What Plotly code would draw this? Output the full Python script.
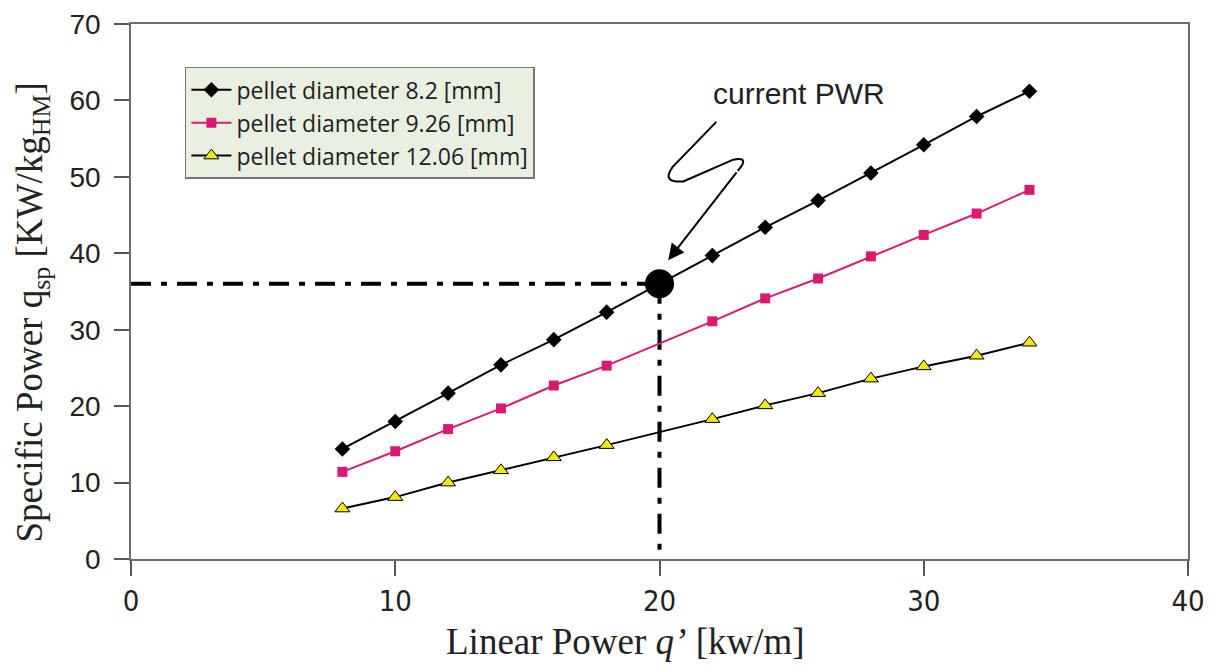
import plotly.graph_objects as go

# ---- data ----
x_black = [8, 10, 12, 14, 16, 18, 20, 22, 24, 26, 28, 30, 32, 34]
y_black = [14.4, 18.0, 21.7, 25.4, 28.7, 32.3, 36.0, 39.7, 43.4, 46.9, 50.5, 54.2, 57.9, 61.2]

x_pink = [8, 10, 12, 14, 16, 18, 22, 24, 26, 28, 30, 32, 34]
y_pink = [11.4, 14.1, 17.0, 19.7, 22.7, 25.3, 31.1, 34.1, 36.7, 39.6, 42.4, 45.2, 48.3]

x_yellow = [8, 10, 12, 14, 16, 18, 22, 24, 26, 28, 30, 32, 34]
y_yellow = [6.6, 8.1, 10.0, 11.6, 13.3, 14.9, 18.3, 20.1, 21.7, 23.6, 25.2, 26.6, 28.3]

names = ["pellet diameter 8.2 [mm]", "pellet diameter 9.26 [mm]", "pellet diameter 12.06 [mm]"]

pwr_x = [20]
pwr_y = [36.0]

x_ticks = [0, 10, 20, 30, 40]
y_ticks = [0, 10, 20, 30, 40, 50, 60, 70]

PINK = "#d81b72"
YELLOW = "#f2ea00"

fig = go.Figure()

# reference dash-dot lines to the current PWR point
fig.add_trace(go.Scatter(x=[0, pwr_x[0]], y=[pwr_y[0], pwr_y[0]], mode="lines",
                         line=dict(color="black", width=4, dash="20px,10px,6px,10px"),
                         showlegend=False, hoverinfo="skip"))
fig.add_trace(go.Scatter(x=[pwr_x[0], pwr_x[0]], y=[pwr_y[0], 0], mode="lines",
                         line=dict(color="black", width=4, dash="20px,10px,6px,10px"),
                         showlegend=False, hoverinfo="skip"))

fig.add_trace(go.Scatter(x=x_black, y=y_black, mode="lines+markers", name=names[0],
                         line=dict(color="black", width=2),
                         marker=dict(symbol="diamond", size=12, color="black")))
fig.add_trace(go.Scatter(x=x_pink, y=y_pink, mode="lines+markers", name=names[1],
                         line=dict(color=PINK, width=2),
                         marker=dict(symbol="square", size=10, color=PINK)))
fig.add_trace(go.Scatter(x=x_yellow, y=y_yellow, mode="lines+markers", name=names[2],
                         line=dict(color="black", width=2),
                         marker=dict(symbol="triangle-up", size=13, color=YELLOW,
                                     line=dict(color="black", width=1))))

# current PWR big dot
fig.add_trace(go.Scatter(x=pwr_x, y=pwr_y, mode="markers", showlegend=False,
                         marker=dict(symbol="circle", size=29, color="black")))

# zig-zag pointer (data coordinates)
fig.add_shape(type="path", xref="x", yref="y",
              path="M 22.15,57.2 L 20.50,51.3 Q 20.05,49.2 20.9,49.4 L 22.79,52.25 "
                   "Q 23.45,52.7 22.96,50.78",
              line=dict(color="black", width=2))
fig.add_annotation(x=20.33, y=39.1, xref="x", yref="y", ax=22.96, ay=50.78,
                   axref="x", ayref="y", text="", showarrow=True,
                   arrowhead=2, arrowsize=1.6, arrowwidth=2, arrowcolor="black", standoff=0)

fig.add_annotation(x=21.95, y=60.9, xref="x", yref="y", text="current PWR", showarrow=False,
                   xanchor="left", yanchor="middle",
                   font=dict(family="Liberation Sans, Arial, sans-serif", size=30, color="#222"))

# axis titles
fig.add_annotation(x=-0.093, y=0.46, xref="paper", yref="paper", textangle=-90,
                   text="Specific Power q<sub>sp</sub> [KW/kg<sub>HM</sub>]", showarrow=False,
                   xanchor="center", yanchor="middle",
                   font=dict(family="Liberation Serif, Times New Roman, serif", size=37, color="#222"))
fig.add_annotation(x=0.468, y=-0.155, xref="paper", yref="paper",
                   text="Linear Power <i>q’</i> [kw/m]", showarrow=False,
                   xanchor="center", yanchor="middle",
                   font=dict(family="Liberation Serif, Times New Roman, serif", size=37, color="#222"))

axis_common = dict(showgrid=False, zeroline=False, showline=True, mirror=True,
                   linecolor="#6e6e6e", linewidth=1.5, ticks="outside", ticklen=15,
                   tickwidth=1.5, tickcolor="#555", ticklabeloverflow="allow",
                   automargin=False)

fig.update_xaxes(range=[0, 40], tickvals=x_ticks, **axis_common,
                 tickfont=dict(family="DejaVu Sans Condensed, Liberation Sans Narrow, Arial Narrow, Liberation Sans, sans-serif",
                               size=29, color="#222"))
fig.update_yaxes(range=[0, 70], tickvals=y_ticks, **axis_common, ticklabelstandoff=8,
                 tickfont=dict(family="Liberation Sans, Arial, sans-serif", size=28, color="#222"))

fig.update_layout(
    width=1202, height=656,
    margin=dict(l=123, r=22, t=16, b=105, autoexpand=False),
    plot_bgcolor="white", paper_bgcolor="white",
    legend=dict(x=0.051, y=0.92, xanchor="left", yanchor="top",
                bgcolor="#e9f0e1", bordercolor="#777", borderwidth=1.5,
                font=dict(family="Open Sans, Liberation Sans, Arial, sans-serif", size=23, color="#222"),
                tracegroupgap=0, itemwidth=40),
    showlegend=True,
)

fig.write_html("out.html")
